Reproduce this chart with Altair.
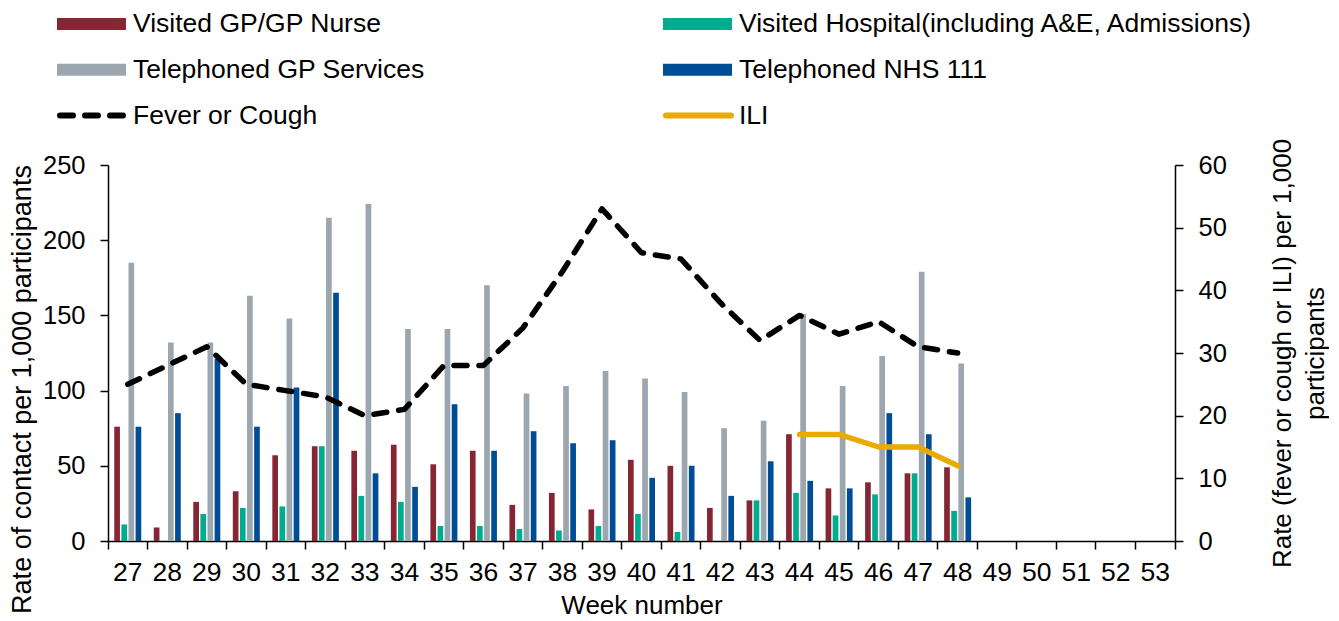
import altair as alt
import pandas as pd

# ---------------- data ----------------
weeks = list(range(27, 54))
data_weeks = list(range(27, 49))
series_names = [
    "Visited GP/GP Nurse",
    "Visited Hospital(including A&E, Admissions)",
    "Telephoned GP Services",
    "Telephoned NHS 111",
]
visited_gp = [76, 9, 26, 33, 57, 63, 60, 64, 51, 60, 24, 32, 21, 54, 50, 22, 27, 71, 35, 39, 45, 49]
visited_hosp = [11, 0, 18, 22, 23, 63, 30, 26, 10, 10, 8, 7, 10, 18, 6, 0, 27, 32, 17, 31, 45, 20]
tel_gp = [185, 132, 132, 163, 148, 215, 224, 141, 141, 170, 98, 103, 113, 108, 99, 75, 80, 151, 103, 123, 179, 118]
tel_111 = [76, 85, 121, 76, 102, 165, 45, 36, 91, 60, 73, 65, 67, 42, 50, 30, 53, 40, 35, 85, 71, 29]
fever = [25, 28, 31, 25, 24, 23, 20, 21, 28, 28, 34, 43, 53, 46, 45, 38, 32, 36, 33, 35, 31, 30]
ili_weeks = [44, 45, 46, 47, 48]
ili = [17, 17, 15, 15, 12]

bar_colors = ["#862633", "#00AB8E", "#9BA6AF", "#004D97"]
fever_color = "#000000"
ili_color = "#EAAB00"

legend_labels = series_names + ["Fever or Cough", "ILI"]
legend_kind = ["bar", "bar", "bar", "bar", "dash", "solid"]
legend_col = [0, 1, 0, 1, 0, 1]
legend_row = [0, 0, 1, 1, 2, 2]

# ---------------- tables ----------------
bar_rows = []
for name, vals in zip(series_names, [visited_gp, visited_hosp, tel_gp, tel_111]):
    for w, v in zip(data_weeks, vals):
        bar_rows.append({"week": w, "series": name, "value": v})
bar_df = pd.DataFrame(bar_rows)
fever_df = pd.DataFrame({"week": data_weeks, "rate": fever})
ili_df = pd.DataFrame({"week": ili_weeks, "rate": ili})
leg_df = pd.DataFrame({"label": legend_labels, "kind": legend_kind,
                       "col": legend_col, "row": legend_row})

FONT = "Liberation Sans"
W, H = 1067, 376

common_axis = dict(labelFont=FONT, titleFont=FONT, titleFontWeight="normal",
                   labelColor="black", titleColor="black",
                   domainColor="black", tickColor="black", domainWidth=1.5, tickWidth=1.5,
                   grid=False)

x_scale = alt.Scale(domain=weeks, paddingInner=0, paddingOuter=0)

bars = alt.Chart(bar_df).mark_bar().encode(
    x=alt.X("week:O", scale=x_scale,
            axis=alt.Axis(title="Week number", orient="bottom", labelAngle=0, ticks=False,
                          tickSize=0, labelPadding=18, titlePadding=7, labelFontSize=26.5,
                          titleFontSize=26, **common_axis)),
    xOffset=alt.XOffset("series:N", sort=series_names,
                        scale=alt.Scale(domain=series_names, paddingInner=0.2, paddingOuter=0.88)),
    y=alt.Y("value:Q", scale=alt.Scale(domain=[0, 250]),
            axis=alt.Axis(title="Rate of contact per 1,000 participants", orient="left",
                          values=[0, 50, 100, 150, 200, 250], tickSize=8, labelPadding=15,
                          titlePadding=6, titleY=224, labelFontSize=25.5, titleFontSize=27,
                          **common_axis)),
    color=alt.Color("series:N", scale=alt.Scale(domain=series_names, range=bar_colors), legend=None),
)

fever_line = alt.Chart(fever_df).mark_line(
    color=fever_color, strokeWidth=5.5, strokeDash=[13, 12], strokeCap="round", strokeJoin="round"
).encode(
    x=alt.X("week:O", scale=x_scale,
            axis=alt.Axis(title=None, orient="bottom", labels=False, domain=False, ticks=True,
                          tickSize=8, bandPosition=0, **common_axis)),
    y=alt.Y("rate:Q", scale=alt.Scale(domain=[0, 60]),
            axis=alt.Axis(title=["Rate (fever or cough or ILI) per 1,000", "participants"],
                          orient="right", values=[0, 10, 20, 30, 40, 50, 60], tickSize=8,
                          labelPadding=15, titlePadding=36, titleAngle=270, titleLineHeight=33,
                          labelFontSize=25.5, titleFontSize=26, **common_axis)),
)

ili_line = alt.Chart(ili_df).mark_line(
    color=ili_color, strokeWidth=5.5, strokeCap="round", strokeJoin="round"
).encode(
    x=alt.X("week:O", scale=x_scale,
            axis=alt.Axis(title=None, orient="bottom", labels=False, domain=False, ticks=True,
                          tickSize=8, values=[53], bandPosition=1, **common_axis)),
    y=alt.Y("rate:Q", scale=alt.Scale(domain=[0, 60]), axis=None),
)

main = alt.layer(bars, fever_line, ili_line).resolve_scale(y="independent").resolve_axis(
    x="independent").properties(width=W, height=H)

# ---------------- legend ----------------
lx = alt.X("col:Q", scale=alt.Scale(domain=[0, 1], range=[-51, 555]), axis=None)
ly = alt.Y("row:Q", scale=alt.Scale(domain=[0, 2], range=[14, 105.5]), axis=None)
leg_base = alt.Chart(leg_df)

leg_bar = leg_base.transform_filter(alt.datum.kind == "bar").mark_rule(
    strokeWidth=12, x2Offset=69, strokeCap="butt"
).encode(x=lx, x2="col:Q", y=ly,
         color=alt.Color("label:N", scale=alt.Scale(domain=series_names, range=bar_colors), legend=None))
leg_dash = leg_base.transform_filter(alt.datum.kind == "dash").mark_rule(
    strokeWidth=6, strokeDash=[13, 12], strokeCap="round", color=fever_color, xOffset=3, x2Offset=66
).encode(x=lx, x2="col:Q", y=ly)
leg_solid = leg_base.transform_filter(alt.datum.kind == "solid").mark_rule(
    strokeWidth=6, strokeCap="round", color=ili_color, xOffset=3, x2Offset=68
).encode(x=lx, x2="col:Q", y=ly)
leg_text = leg_base.mark_text(
    align="left", baseline="middle", dx=76, font=FONT, fontSize=26.5, color="black"
).encode(x=lx, y=ly, text="label:N")

legend = alt.layer(leg_bar, leg_dash, leg_solid, leg_text).properties(width=W, height=130)

chart = alt.vconcat(
    legend, main, spacing=25, bounds="flush",
    padding={"left": 0, "top": 2, "right": 0, "bottom": 0},
).configure_view(stroke=None)

chart.save("out.html", embed_options={"renderer": "svg", "actions": False})
